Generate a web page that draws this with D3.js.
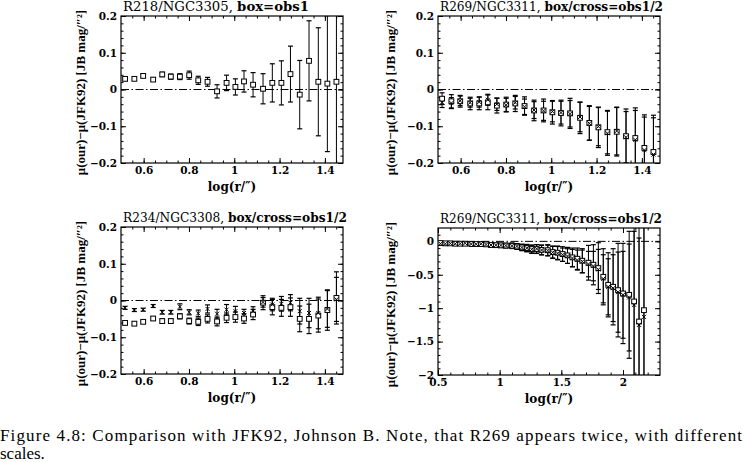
<!DOCTYPE html>
<html>
<head>
<meta charset="utf-8">
<script src="https://cdn.jsdelivr.net/npm/d3@7"></script>
<style>
  body { margin: 0; background: #fff; }
  svg text { fill: #000; }
</style>
</head>
<body>
<svg id="fig" width="744" height="462"></svg>
<script>
// ---- data ----
// log(r/") grid used for the three small-range panels
var logR = [0.518,0.559,0.598,0.642,0.682,0.720,0.760,0.801,0.841,0.882,0.924,0.966,
            1.005,1.043,1.083,1.127,1.168,1.208,1.248,1.289,1.330,1.371,1.411,1.451];

// R218/NGC3305, box = obs1
var p1Box    = [0.029,0.029,0.037,0.027,0.041,0.035,0.035,0.039,0.025,0.021,-0.005,0.018,
                0.007,0.022,0.013,0.002,0.018,0.018,0.042,-0.014,0.078,0.021,0.016,0.021];
var p1BoxErr = [0.005,0.004,0.004,0.005,0.006,0.007,0.008,0.011,0.011,0.012,0.018,0.021,
                0.022,0.029,0.033,0.041,0.052,0.060,0.076,0.093,0.109,0.147,0.185,0.250];

// R269/NGC3311, box/cross = obs1/obs2
var p2Box      = [-0.025,-0.032,-0.032,-0.038,-0.038,-0.035,-0.044,-0.041,-0.038,-0.045,-0.057,-0.057,
                  -0.062,-0.064,-0.065,-0.077,-0.091,-0.103,-0.116,-0.115,-0.127,-0.132,-0.159,-0.170];
var p2BoxErr   = [0.016,0.018,0.016,0.017,0.017,0.020,0.020,0.020,0.022,0.025,0.028,0.031,
                  0.032,0.035,0.041,0.043,0.047,0.055,0.059,0.066,0.074,0.082,0.090,0.100];
var p2Cross    = [-0.035,-0.037,-0.031,-0.036,-0.034,-0.028,-0.040,-0.042,-0.036,-0.047,-0.056,-0.058,
                  -0.060,-0.063,-0.066,-0.075,-0.092,-0.101,-0.119,-0.113,-0.130,-0.137,-0.165,-0.177];
var p2CrossErr = [0.014,0.015,0.013,0.012,0.014,0.015,0.017,0.018,0.017,0.021,0.023,0.026,
                  0.028,0.031,0.036,0.040,0.046,0.052,0.060,0.065,0.070,0.080,0.090,0.100];

// R234/NGC3308, box/cross = obs1/obs2
var p3Box      = [-0.061,-0.063,-0.058,-0.049,-0.056,-0.056,-0.043,-0.056,-0.058,-0.050,-0.057,-0.047,
                  -0.045,-0.049,-0.038,-0.006,-0.018,-0.020,-0.018,-0.050,-0.050,-0.041,-0.026,0.007];
var p3BoxErr   = [0.005,0.005,0.004,0.005,0.006,0.006,0.007,0.008,0.010,0.011,0.012,0.013,
                  0.014,0.013,0.014,0.019,0.021,0.023,0.025,0.035,0.040,0.045,0.055,0.071];
var p3Cross    = [-0.020,-0.026,-0.025,-0.015,-0.032,-0.032,-0.017,-0.032,-0.035,-0.023,-0.036,-0.025,
                  -0.029,-0.034,-0.029,-0.005,-0.011,-0.009,-0.006,-0.029,-0.034,-0.034,-0.023,0.003];
var p3CrossErr = [0.004,0.004,0.004,0.004,0.005,0.005,0.008,0.007,0.009,0.011,0.012,0.014,
                  0.013,0.010,0.012,0.013,0.017,0.020,0.022,0.035,0.040,0.043,0.050,0.060];

// R269/NGC3311 again, full radial range
var logRWide = [0.52,0.56,0.60,0.64,0.68,0.72,0.77,0.81,0.85,0.89,0.93,0.97,1.01,1.05,
                1.10,1.14,1.18,1.22,1.26,1.30,1.34,1.39,1.43,1.47,1.51,1.55,1.59,1.63,
                1.67,1.72,1.76,1.80,1.84,1.88,1.92,1.96,2.00,2.05,2.09,2.13,2.17];
var p4Box      = [-0.025,-0.030,-0.030,-0.035,-0.035,-0.035,-0.040,-0.040,-0.040,-0.045,-0.055,-0.057,
                  -0.060,-0.063,-0.066,-0.077,-0.090,-0.100,-0.115,-0.115,-0.128,-0.132,-0.160,-0.170,
                  -0.190,-0.210,-0.240,-0.260,-0.290,-0.320,-0.350,-0.400,-0.530,-0.650,-0.680,-0.730,
                  -0.780,-0.800,-0.900,-1.200,-1.030];
var p4BoxErr   = [0.016,0.018,0.016,0.017,0.017,0.020,0.020,0.020,0.022,0.025,0.028,0.031,
                  0.032,0.035,0.041,0.043,0.047,0.055,0.059,0.066,0.074,0.082,0.090,0.100,
                  0.110,0.120,0.140,0.160,0.180,0.260,0.300,0.380,0.420,0.480,0.570,0.700,
                  0.750,0.950,1.300,1.500,1.600];
var p4Cross    = [-0.035,-0.037,-0.031,-0.036,-0.034,-0.028,-0.040,-0.042,-0.036,-0.047,-0.056,-0.058,
                  -0.060,-0.063,-0.066,-0.075,-0.092,-0.101,-0.119,-0.113,-0.130,-0.137,-0.165,-0.177,
                  -0.200,-0.220,-0.250,-0.280,-0.300,-0.340,-0.370,-0.420,-0.560,-0.680,-0.700,-0.760,
                  -0.800,-0.840,-0.950,-1.250,-1.130];
var p4CrossErr = [0.014,0.015,0.013,0.012,0.014,0.015,0.017,0.018,0.017,0.021,0.023,0.026,
                  0.028,0.031,0.036,0.040,0.046,0.052,0.060,0.065,0.070,0.080,0.090,0.100,
                  0.100,0.110,0.130,0.150,0.170,0.190,0.220,0.300,0.360,0.420,0.500,0.600,
                  0.650,0.800,1.100,1.300,1.400];

// tick labels
var smallXTicks = [0.6, 0.8, 1, 1.2, 1.4];
var smallYTicks = [-0.2, -0.1, 0, 0.1, 0.2];
var wideXTicks  = [0.5, 1, 1.5, 2];
var wideYTicks  = [-2, -1.5, -1, -0.5, 0];

var yLabel = "\u03bc(our)\u2212\u03bc(JFK92) [JB mag/\u2033\u00b2]";
var xLabel = "log(r/\u2033)";

var SERIF = "'DejaVu Serif', serif";
var svg = d3.select("#fig");

function fmt(d) {
  return (d < 0 ? "\u2212" : "") + Math.abs(d);
}

function drawPanel(p) {
  var x = d3.scaleLinear().domain(p.xDomain).range([p.left, p.right]);
  var y = d3.scaleLinear().domain(p.yDomain).range([p.bottom, p.top]);
  var w = p.right - p.left, h = p.bottom - p.top;

  svg.append("clipPath").attr("id", "clip" + p.id)
    .append("rect").attr("x", p.left).attr("y", p.top).attr("width", w).attr("height", h);

  var g = svg.append("g");

  // ticks on all four sides, pointing in
  function addAxis(axis, tx, ty) {
    var a = g.append("g").attr("transform", "translate(" + tx + "," + ty + ")").call(axis);
    a.select(".domain").remove();
    a.selectAll("line").attr("stroke", "#000").attr("stroke-width", 1);
    a.selectAll("text").style("font-size", "10.5px").style("font-weight", "bold")
      .style("font-family", SERIF).attr("fill", "#000");
    return a;
  }
  addAxis(d3.axisBottom(x).tickValues(p.xTicks).tickSize(-5).tickPadding(4).tickFormat(fmt), 0, p.bottom);
  addAxis(d3.axisBottom(x).tickValues(p.xMinor).tickSize(-2.5).tickFormat(""), 0, p.bottom);
  addAxis(d3.axisTop(x).tickValues(p.xTicks).tickSize(-5).tickFormat(""), 0, p.top);
  addAxis(d3.axisTop(x).tickValues(p.xMinor).tickSize(-2.5).tickFormat(""), 0, p.top);
  addAxis(d3.axisLeft(y).tickValues(p.yTicks).tickSize(-5).tickPadding(4).tickFormat(fmt), p.left, 0);
  addAxis(d3.axisLeft(y).tickValues(p.yMinor).tickSize(-2.5).tickFormat(""), p.left, 0);
  addAxis(d3.axisRight(y).tickValues(p.yTicks).tickSize(-5).tickFormat(""), p.right, 0);
  addAxis(d3.axisRight(y).tickValues(p.yMinor).tickSize(-2.5).tickFormat(""), p.right, 0);

  g.append("rect").attr("x", p.left).attr("y", p.top).attr("width", w).attr("height", h)
    .attr("fill", "none").attr("stroke", "#000").attr("stroke-width", 1.2);

  // zero reference line
  g.append("line").attr("x1", p.left).attr("x2", p.right).attr("y1", y(0)).attr("y2", y(0))
    .attr("stroke", "#000").attr("stroke-width", 1).attr("stroke-dasharray", "8,2.5,1.5,2.5");

  var data = g.append("g").attr("clip-path", "url(#clip" + p.id + ")");

  p.series.forEach(function(s) {
    s.v.forEach(function(v, i) {
      var cx = x(s.x[i]), lo = y(v - s.e[i]), hi = y(v + s.e[i]);
      data.append("line").attr("x1", cx).attr("x2", cx).attr("y1", lo).attr("y2", hi)
        .attr("stroke", "#000").attr("stroke-width", 1);
      [lo, hi].forEach(function(yy) {
        data.append("line").attr("x1", cx - 2.5).attr("x2", cx + 2.5).attr("y1", yy).attr("y2", yy)
          .attr("stroke", "#000").attr("stroke-width", 1.2);
      });
    });
  });
  p.series.forEach(function(s) {
    s.v.forEach(function(v, i) {
      var cx = x(s.x[i]), cy = y(v);
      if (s.kind === "box") {
        data.append("rect").attr("x", cx - 2.4).attr("y", cy - 2.4).attr("width", 4.8).attr("height", 4.8)
          .attr("fill", "#fff").attr("stroke", "#000").attr("stroke-width", 1);
      } else {
        data.append("path").attr("transform", "translate(" + cx + "," + cy + ")")
          .attr("d", "M-2,-2L2,2M-2,2L2,-2").attr("stroke", "#000").attr("stroke-width", 1);
      }
    });
  });

  // title
  var t = svg.append("text").attr("x", p.left + 2).attr("y", p.top - 5)
    .style("font-family", SERIF).style("font-size", "12.5px")
    .attr("textLength", p.titleWidth).attr("lengthAdjust", "spacingAndGlyphs");
  t.append("tspan").text(p.title[0]);
  t.append("tspan").style("font-weight", "bold").text(p.title[1]);

  // axis titles
  svg.append("text").attr("x", (p.left + p.right) / 2).attr("y", p.bottom + 28)
    .attr("text-anchor", "middle").style("font-family", SERIF).style("font-size", "12px")
    .style("font-weight", "bold").text(xLabel);
  svg.append("text")
    .attr("transform", "translate(" + (p.left - p.labelOff) + "," + ((p.top + p.bottom) / 2 + 3) + ") rotate(-90)")
    .attr("text-anchor", "middle").attr("dy", "0.35em")
    .style("font-family", "'Liberation Serif', serif").style("font-size", "13px").style("font-weight", "bold")
    .text(yLabel);
}

var smallXMinor = d3.range(11, 30).map(function(i) { return i * 0.05; });
var smallYMinor = d3.range(-9, 10).map(function(i) { return i * 0.02; });
var wideXMinor  = d3.range(6, 23).map(function(i) { return i * 0.1; });
var wideYMinor  = d3.range(-19, 2).map(function(i) { return i * 0.1; });

drawPanel({id: 1, left: 121, right: 343, top: 16, bottom: 163, labelOff: 41,
  xDomain: [0.5, 1.48], yDomain: [-0.2, 0.2],
  xTicks: smallXTicks, yTicks: smallYTicks, xMinor: smallXMinor, yMinor: smallYMinor,
  title: ["R218/NGC3305, ", "box=obs1"], titleWidth: 186,
  series: [{kind: "box", x: logR, v: p1Box, e: p1BoxErr}]});

drawPanel({id: 2, left: 438, right: 660, top: 16, bottom: 163, labelOff: 48,
  xDomain: [0.5, 1.48], yDomain: [-0.2, 0.2],
  xTicks: smallXTicks, yTicks: smallYTicks, xMinor: smallXMinor, yMinor: smallYMinor,
  title: ["R269/NGC3311, ", "box/cross=obs1/2"], titleWidth: 223,
  series: [{kind: "box", x: logR, v: p2Box, e: p2BoxErr},
           {kind: "cross", x: logR, v: p2Cross, e: p2CrossErr}]});

drawPanel({id: 3, left: 121, right: 343, top: 227, bottom: 374, labelOff: 41,
  xDomain: [0.5, 1.48], yDomain: [-0.2, 0.2],
  xTicks: smallXTicks, yTicks: smallYTicks, xMinor: smallXMinor, yMinor: smallYMinor,
  title: ["R234/NGC3308, ", "box/cross=obs1/2"], titleWidth: 224,
  series: [{kind: "box", x: logR, v: p3Box, e: p3BoxErr},
           {kind: "cross", x: logR, v: p3Cross, e: p3CrossErr}]});

drawPanel({id: 4, left: 438, right: 660, top: 228, bottom: 375, labelOff: 48,
  xDomain: [0.5, 2.3], yDomain: [-2, 0.2],
  xTicks: wideXTicks, yTicks: wideYTicks, xMinor: wideXMinor, yMinor: wideYMinor,
  title: ["R269/NGC3311, ", "box/cross=obs1/2"], titleWidth: 222,
  series: [{kind: "box", x: logRWide, v: p4Box, e: p4BoxErr},
           {kind: "cross", x: logRWide, v: p4Cross, e: p4CrossErr}]});

// caption
svg.append("text").attr("x", 0).attr("y", 441)
  .style("font-family", "'Liberation Serif', serif").style("font-size", "17px")
  .attr("textLength", 742).attr("lengthAdjust", "spacing")
  .text("Figure 4.8: Comparison with JFK92, Johnson B. Note, that R269 appears twice, with different");
svg.append("text").attr("x", 0).attr("y", 459)
  .style("font-family", "'Liberation Serif', serif").style("font-size", "17px")
  .text("scales.");
</script>
</body>
</html>
